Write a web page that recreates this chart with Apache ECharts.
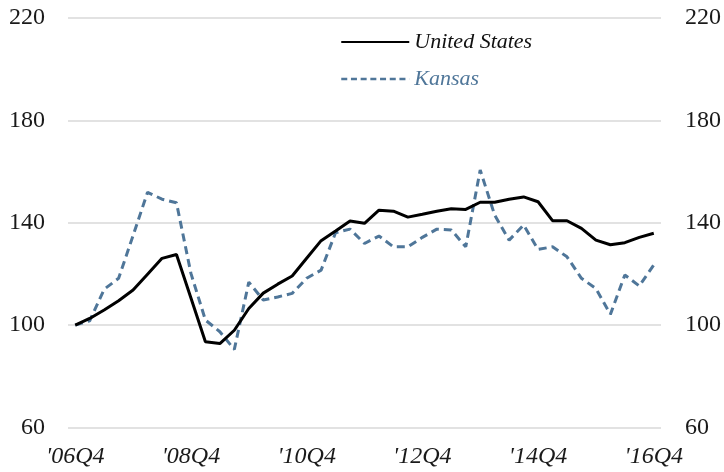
<!DOCTYPE html>
<html>
<head>
<meta charset="utf-8">
<script src="https://cdn.jsdelivr.net/npm/echarts@6/dist/echarts.min.js"></script>
<style>
  html, body { margin: 0; padding: 0; background: #fff; }
  #chart { width: 724px; height: 472px; }
</style>
</head>
<body>
<div id="chart"></div>
<script>
// Quarterly index, 2006Q4 = 100
const categories = [
  "'06Q4",
  "'07Q1", "'07Q2", "'07Q3", "'07Q4",
  "'08Q1", "'08Q2", "'08Q3", "'08Q4",
  "'09Q1", "'09Q2", "'09Q3", "'09Q4",
  "'10Q1", "'10Q2", "'10Q3", "'10Q4",
  "'11Q1", "'11Q2", "'11Q3", "'11Q4",
  "'12Q1", "'12Q2", "'12Q3", "'12Q4",
  "'13Q1", "'13Q2", "'13Q3", "'13Q4",
  "'14Q1", "'14Q2", "'14Q3", "'14Q4",
  "'15Q1", "'15Q2", "'15Q3", "'15Q4",
  "'16Q1", "'16Q2", "'16Q3", "'16Q4"
];

const unitedStates = [
  100, 102.6, 105.9, 109.5, 113.7, 119.9, 126.1, 127.6, 110.6,
  93.5, 92.8, 98.0, 106.5, 112.5, 116.0, 119.2, 126.1,
  133.0, 136.8, 140.7, 139.8, 144.9, 144.5, 142.2, 143.3,
  144.5, 145.5, 145.2, 148.0, 148.0, 149.2, 150.1, 148.2,
  140.8, 140.8, 137.8, 133.2, 131.4, 132.2, 134.3, 135.9
];

const kansas = [
  100, 101.7, 114.0, 118.3, 135.0, 151.9, 149.2, 147.8, 120.2,
  102.0, 97.4, 90.5, 116.8, 109.8, 111.0, 112.4, 118.3,
  121.5, 136.1, 137.5, 131.9, 134.8, 130.6, 130.6, 134.3,
  137.5, 137.2, 130.6, 160.6, 143.0, 133.2, 139.1, 129.6,
  130.6, 126.7, 118.3, 114.3, 104.2, 119.6, 115.3, 123.5
];

const yTicks = { min: 60, max: 220, step: 40 };

const serif = '"Liberation Serif", "DejaVu Serif", serif';
const kansasColor = '#4f7699';

const yAxisBase = {
  type: 'value',
  min: yTicks.min,
  max: yTicks.max,
  interval: yTicks.step,
  axisLine: { show: false },
  axisTick: { show: false },
  axisLabel: { fontFamily: serif, fontSize: 24, color: '#1a1a1a' }
};

const chart = echarts.init(document.getElementById('chart'), null, { renderer: 'canvas' });
chart.setOption({
  animation: false,
  backgroundColor: '#ffffff',
  grid: { left: 68, right: 60, top: 18, bottom: 44.5 },
  legend: {
    orient: 'vertical',
    left: 335,
    top: 26,
    itemWidth: 68,
    itemHeight: 14,
    itemGap: 15,
    // plain line keys, no point markers
    itemStyle: { opacity: 0 },
    textStyle: { fontFamily: serif, fontStyle: 'italic', fontSize: 22, lineHeight: 22 },
    data: [
      { name: 'United States', textStyle: { color: '#111' } },
      {
        name: 'Kansas',
        textStyle: { color: kansasColor },
        lineStyle: { width: 2.5, type: [6, 3.7] }
      }
    ]
  },
  xAxis: {
    type: 'category',
    data: categories,
    boundaryGap: true,
    axisLine: { show: false },
    axisTick: { show: false },
    axisLabel: {
      interval: 7,
      margin: 17,
      fontFamily: serif,
      fontStyle: 'italic',
      fontSize: 24,
      color: '#1a1a1a'
    }
  },
  yAxis: [
    Object.assign({}, yAxisBase, {
      position: 'left',
      axisLabel: Object.assign({}, yAxisBase.axisLabel, { margin: 23 }),
      splitLine: { lineStyle: { color: '#d9d9d9', width: 1.5 } }
    }),
    Object.assign({}, yAxisBase, {
      position: 'right',
      axisLabel: Object.assign({}, yAxisBase.axisLabel, { margin: 24 }),
      splitLine: { show: false }
    })
  ],
  series: [
    {
      name: 'United States',
      type: 'line',
      data: unitedStates,
      symbol: 'none',
      color: '#000000',
      lineStyle: { color: '#000000', width: 3 },
      z: 3
    },
    {
      name: 'Kansas',
      type: 'line',
      data: kansas,
      symbol: 'none',
      color: kansasColor,
      lineStyle: { color: kansasColor, width: 3, type: [8, 5] },
      z: 2
    }
  ]
});
</script>
</body>
</html>
